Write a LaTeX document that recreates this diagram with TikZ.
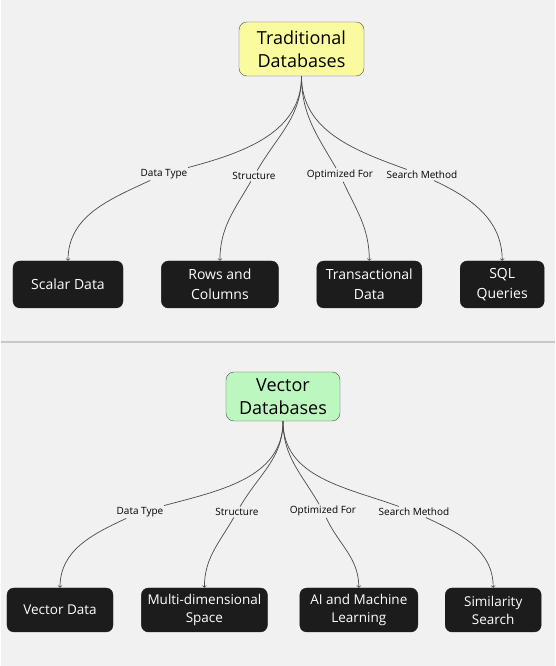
\documentclass[tikz,border=0pt]{standalone}
\usepackage{fontspec}
\setmainfont{Open Sans}
\usetikzlibrary{arrows,positioning,shapes,calc,backgrounds}
\usepackage{xcolor}
\definecolor{bgray}{HTML}{F1F1F1}
\definecolor{topyellow}{HTML}{FAFA9E}
\definecolor{topgreen}{HTML}{BDF7C0}
\definecolor{leafblack}{HTML}{1C1C1C}
\definecolor{wiregray}{HTML}{4A4A4A}

\begin{document}
\begin{tikzpicture}[x=1pt,y=1pt,
    topic/.style={draw=black!70,rounded corners=8pt,align=center,inner sep=0pt,font=\fontsize{18}{23}\selectfont},
    leaf/.style={draw=leafblack,fill=leafblack,text=white,rounded corners=7pt,align=center,inner sep=0pt,font=\fontsize{14}{20}\selectfont},
    lbl/.style={inner sep=1.5pt,font=\fontsize{10}{11}\selectfont},
    wire/.style={draw=wiregray,line width=0.7pt}]
    \fill[bgray] (0,0) rectangle (554,666);
    \draw[black!22,line width=2pt] (0,324) -- (554,324);

    % traditional databases
    \node[topic,fill=topyellow,minimum width=125pt,minimum height=54pt] (trad) at (300.5,617) {Traditional\\Databases};
    \node[leaf,minimum width=110pt,minimum height=47pt] (scalar) at (67,381.5) {Scalar Data};
    \node[leaf,minimum width=117pt,minimum height=47pt,right=38pt of scalar] (rows) {Rows and\\Columns};
    \node[leaf,minimum width=105pt,minimum height=47pt,right=38pt of rows] (trans) {Transactional\\Data};
    \node[leaf,minimum width=84pt,minimum height=47pt,right=38pt of trans] (sql) {SQL\\Queries};
    \node[lbl] (tdt) at (163,492) {Data Type};
    \node[lbl] (tst) at (253,490) {Structure};
    \node[lbl] (tof) at (339,491) {Optimized For};
    \node[lbl] (tsm) at (421,491) {Search Method};
    \draw[wire] (trad) to[out=-90,in=15] (tdt);
    \draw[wire,->] (tdt) to[out=205,in=90] (scalar);
    \draw[wire] (trad) to[out=-90,in=60] (tst);
    \draw[wire,->] (tst) to[out=240,in=90] (rows);
    \draw[wire] (trad) to[out=-90,in=120] (tof);
    \draw[wire,->] (tof) to[out=-65,in=90] (trans);
    \draw[wire] (trad) to[out=-90,in=160] (tsm);
    \draw[wire,->] (tsm) to[out=-25,in=90] (sql);

    % vector databases
    \node[topic,fill=topgreen,minimum width=114pt,minimum height=49pt] (vec) at (282,269.5) {Vector\\Databases};
    \node[leaf,font=\fontsize{13.5}{18}\selectfont,minimum width=106pt,minimum height=44pt] (vdata) at (59,56) {Vector Data};
    \node[leaf,font=\fontsize{13.5}{18}\selectfont,minimum width=126pt,minimum height=44pt,right=28pt of vdata] (multi) {Multi-dimensional\\Space};
    \node[leaf,font=\fontsize{13.5}{18}\selectfont,minimum width=118pt,minimum height=44pt,right=32pt of multi] (aiml) {AI and Machine\\Learning};
    \node[leaf,font=\fontsize{13.5}{18}\selectfont,minimum width=96pt,minimum height=44pt,right=27pt of aiml] (simil) {Similarity\\Search};
    \node[lbl] (vdt) at (139,154) {Data Type};
    \node[lbl] (vst) at (236,154) {Structure};
    \node[lbl] (vof) at (322,155) {Optimized For};
    \node[lbl] (vsm) at (413,154) {Search Method};
    \draw[wire] (vec) to[out=-90,in=15] (vdt);
    \draw[wire,->] (vdt) to[out=205,in=90] (vdata);
    \draw[wire] (vec) to[out=-90,in=60] (vst);
    \draw[wire,->] (vst) to[out=240,in=90] (multi);
    \draw[wire] (vec) to[out=-90,in=120] (vof);
    \draw[wire,->] (vof) to[out=-65,in=90] (aiml);
    \draw[wire] (vec) to[out=-90,in=160] (vsm);
    \draw[wire,->] (vsm) to[out=-25,in=90] (simil);
  \end{tikzpicture}
\end{document}
